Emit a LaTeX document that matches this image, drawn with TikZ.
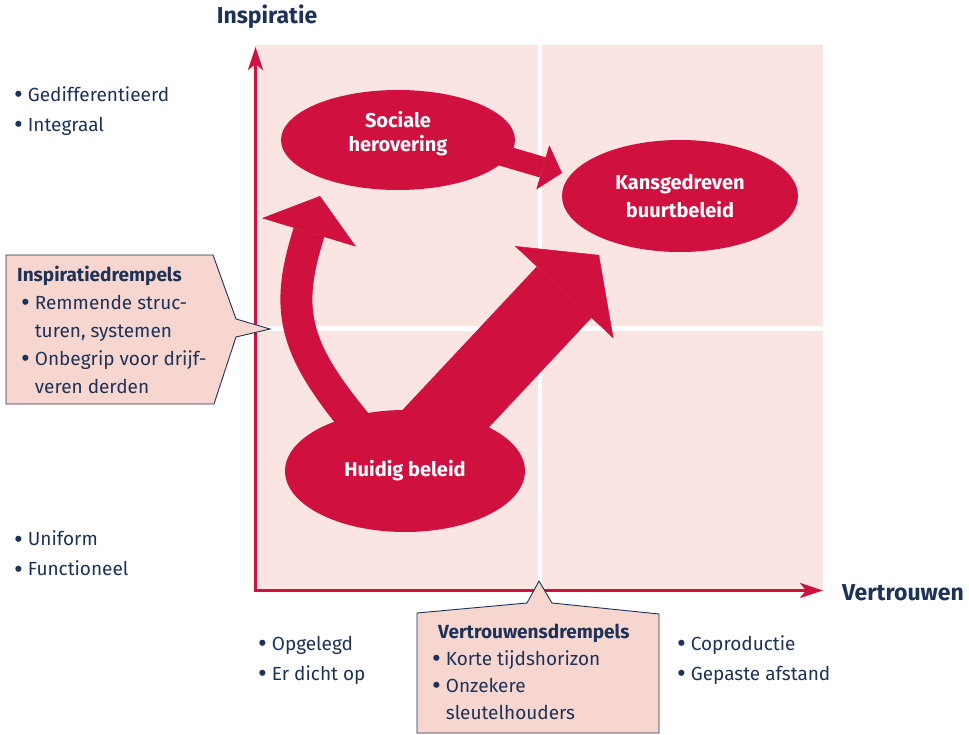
\documentclass[tikz,border=0pt]{standalone}
\usepackage{fontspec}
\setmainfont{Fira Sans}
\usepackage{xcolor}
\usetikzlibrary{arrows.meta,shapes.geometric}

\definecolor{navy}{HTML}{1D3257}
\definecolor{rood}{HTML}{D0103F}
\definecolor{roze}{HTML}{FAE5E2}
\definecolor{kader}{HTML}{F8D6D0}

\newcommand{\bul}{\makebox[0.72em][l]{\raisebox{-0.12em}{\fontsize{27}{27}\selectfont •}}}
\newcommand{\inspring}{\hspace*{0.72em}}

\tikzset{
    quad/.style={fill=roze},
    as/.style={rood, line width=3pt, line join=miter,
        {Stealth[length=23pt,width=15pt,inset=6pt]}-{Stealth[length=23pt,width=15pt,inset=6pt]}},
    pijl/.style={rood, line width=#1},
    blob/.style={ellipse, fill=rood, text=white, inner sep=0pt, align=center,
        font=\fontsize{20}{24}\selectfont\bfseries},
    kop/.style={text=navy, font=\fontsize{23}{26}\selectfont\bfseries},
    lijst/.style={anchor=west, align=left, text=navy, inner sep=0pt,
        font=\fontsize{19}{30}\selectfont},
    ballon/.style={fill=kader, draw=navy, line width=0.9pt, line join=miter},
}

\begin{document}
\begin{tikzpicture}[x=1pt,y=-1pt]
    \useasboundingbox (0,0) rectangle (969,735);

    %=== Kwadranten ===
    \foreach \xa/\xb in {255/538, 542/823}
        \foreach \ya/\yb in {45/326, 331/590}
            \fill[quad] (\xa,\ya) rectangle (\xb,\yb);

    %=== Assen ===
    \coordinate (oorsprong) at (255.5,590.5);
    \coordinate (ytop) at (255.5,47);
    \coordinate (xeind) at (823,590.5);
    \draw[as] (ytop) -- (oorsprong) -- (xeind);
    \node[kop] (inspiratie) at (267,17) {Inspiratie};
    \node[kop] (vertrouwen) at (903,593) {Vertrouwen};

    %=== Pijlen ===
    \coordinate (kleinstaart) at (470,146);
    \coordinate (kleinpunt) at (562,173);
    \coordinate (grootstaart) at (407,460);
    \coordinate (grootpunt) at (599,255);
    \coordinate (boogstaart) at (370,440);
    \coordinate (boogknik) at (307,239);
    \coordinate (boogpunt) at (320,196);
    \draw[pijl=21pt, -{Triangle[length=20pt,width=46pt,line width=0.5pt]}] (kleinstaart) -- (kleinpunt);
    \draw[pijl=75pt, -{Triangle[length=51pt,width=135pt,line width=0.5pt]}] (grootstaart) -- (grootpunt);
    \draw[pijl=32pt, -{Triangle[length=38pt,width=98pt,line width=0.5pt]}]
        (boogstaart) .. controls (298,356) and (283,318) .. (boogknik) -- (boogpunt);

    %=== Beleid ===
    \node[blob, minimum width=234pt, minimum height=100pt, text depth=17pt] (sociaal) at (398,140) {Sociale\\herovering};
    \node[blob, minimum width=236pt, minimum height=112pt, font=\fontsize{20}{28}\selectfont\bfseries] (kans) at (680,196) {Kansgedreven\\buurtbeleid};
    \node[blob, minimum width=240pt, minimum height=122pt] (huidig) at (405,471) {Huidig beleid};

    %=== Lijsten ===
    \node[lijst] (gedif) at (14,111) {\bul Gedifferentieerd\\ \bul Integraal};
    \node[lijst] (uniform) at (14,554.5) {\bul Uniform\\ \bul Functioneel};
    \node[lijst] (opgelegd) at (258,660) {\bul Opgelegd\\ \bul Er dicht op};
    \node[lijst] (coprod) at (677,660) {\bul Coproductie\\ \bul Gepaste afstand};

    %=== Drempels ===
    \draw[ballon] (6,255) -- (213,255) -- (236,319) -- (270,329) -- (236,337)
        -- (214,404) -- (6,404) -- cycle;
    \node[lijst, font=\fontsize{19}{28}\selectfont] (inspdrempel) at (17,329.5)
        {\textbf{Inspiratiedrempels}\\
         \hspace*{4pt}\bul Remmende struc-\\
         \hspace*{4pt}\inspring turen, systemen\\
         \hspace*{4pt}\bul Onbegrip voor drijf-\\
         \hspace*{4pt}\inspring veren derden};

    \draw[ballon] (417,613) -- (527,603) -- (539,581) -- (552,603) -- (659,614)
        -- (659,733) -- (417,733) -- cycle;
    \node[lijst, font=\fontsize{19}{27}\selectfont] (vertrdrempel) at (432,672)
        {\hspace*{6pt}\textbf{Vertrouwensdrempels}\\
         \bul Korte tijdshorizon\\
         \bul Onzekere\\
         \inspring sleutelhouders};
\end{tikzpicture}
\end{document}
